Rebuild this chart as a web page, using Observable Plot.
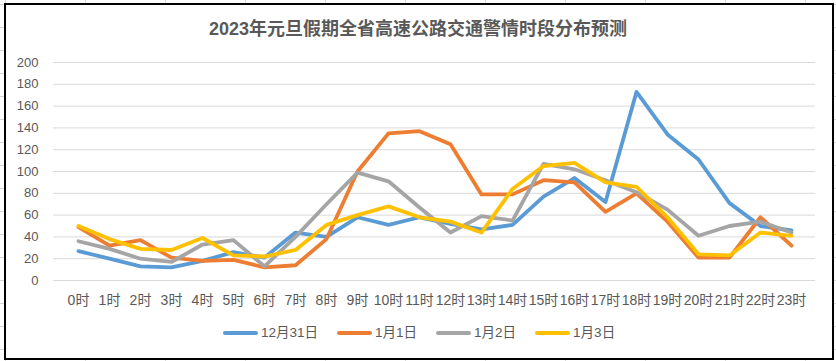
<!DOCTYPE html>
<html>
<head>
<meta charset="utf-8">
<script src="https://cdn.jsdelivr.net/npm/d3@7"></script>
<script src="https://cdn.jsdelivr.net/npm/@observablehq/plot@0.6"></script>
<style>
  html, body { margin: 0; padding: 0; }
  body {
    width: 836px; height: 361px; overflow: hidden; position: relative;
    background-color: #fff;
    background-image:
      repeating-linear-gradient(to right, transparent 0 5px, #d4d4d4 5px 6px, transparent 6px 80px),
      repeating-linear-gradient(to bottom, transparent 0 4px, #d4d4d4 4px 5px, transparent 5px 23px);
    font-family: "Liberation Sans", "Noto Sans CJK SC", sans-serif;
  }
  #frame {
    position: absolute; left: 4px; top: 3px; width: 830px; height: 357px;
    box-sizing: border-box; border: 2px solid #000; background: #fff;
  }
  #title {
    position: absolute; left: 0; top: 17px; width: 836px; text-align: center;
    font-size: 18px; color: #595959; line-height: 24px; font-weight: bold;
  }
  #chart { position: absolute; left: 0; top: 0; }
  #legend {
    position: absolute; left: 223px; top: 323px; display: flex; align-items: center;
    gap: 19px; font-size: 13.5px; color: #595959; line-height: 20px;
  }
  .item { display: flex; align-items: center; }
  .sw { width: 35px; height: 4px; border-radius: 2px; margin-right: 3px; }
</style>
</head>
<body>
<div id="frame"></div>
<div id="title">2023年元旦假期全省高速公路交通警情时段分布预测</div>
<div id="chart"></div>
<div id="legend"></div>
<script>
const hours = ["0时","1时","2时","3时","4时","5时","6时","7时","8时","9时","10时","11时","12时","13时","14时","15时","16时","17时","18时","19时","20时","21时","22时","23时"];
const seriesNames = ["12月31日", "1月1日", "1月2日", "1月3日"];
const seriesColors = ["#5B9BD5", "#ED7D31", "#A5A5A5", "#FFC000"];
const dec31 = [27, 20, 13, 12, 18, 26, 21, 44, 40, 58, 51, 58, 52, 47, 51, 77, 94, 72, 173, 134, 111, 71, 50, 46];
const jan1  = [49, 32, 37, 21, 18, 19, 12, 14, 38, 100, 135, 137, 125, 79, 79, 92, 90, 63, 80, 54, 21, 21, 58, 32];
const jan2  = [36, 29, 20, 17, 33, 37, 13, 40, 70, 99, 91, 67, 44, 59, 55, 107, 102, 92, 81, 65, 41, 50, 54, 44];
const jan3  = [50, 38, 29, 28, 39, 23, 22, 28, 51, 60, 68, 58, 54, 44, 84, 105, 108, 90, 86, 58, 24, 23, 44, 41];
const yTicks = [0, 20, 40, 60, 80, 100, 120, 140, 160, 180, 200];

const allSeries = [dec31, jan1, jan2, jan3];
const data = [];
allSeries.forEach((vals, i) => {
  vals.forEach((v, j) => data.push({hour: hours[j], value: v, series: seriesNames[i]}));
});

const chart = Plot.plot({
  width: 836,
  height: 310,
  marginLeft: 53,
  marginRight: 21,
  marginTop: 62,
  marginBottom: 30,
  style: {fontFamily: '"Liberation Sans", "Noto Sans CJK SC", sans-serif', color: "#595959", background: "transparent", overflow: "visible"},
  x: {type: "point", domain: hours, padding: 0.5},
  y: {domain: [0, 200]},
  color: {domain: seriesNames, range: seriesColors},
  marks: [
    Plot.ruleY(yTicks, {stroke: "#d9d9d9", strokeWidth: 1}),
    Plot.axisY({ticks: yTicks, tickSize: 0, tickPadding: 15, fontSize: 13, label: null}),
    Plot.axisX({tickSize: 0, tickPadding: 15, fontSize: 14, label: null}),
    Plot.line(data, {x: "hour", y: "value", z: "series", stroke: "series", strokeWidth: 3.8, strokeLinejoin: "round", strokeLinecap: "round"})
  ]
});
document.getElementById("chart").appendChild(chart);

const legend = document.getElementById("legend");
seriesNames.forEach((name, i) => {
  const item = document.createElement("div");
  item.className = "item";
  const sw = document.createElement("div");
  sw.className = "sw";
  sw.style.background = seriesColors[i];
  const label = document.createElement("span");
  label.textContent = name;
  item.appendChild(sw);
  item.appendChild(label);
  legend.appendChild(item);
});
</script>
</body>
</html>
